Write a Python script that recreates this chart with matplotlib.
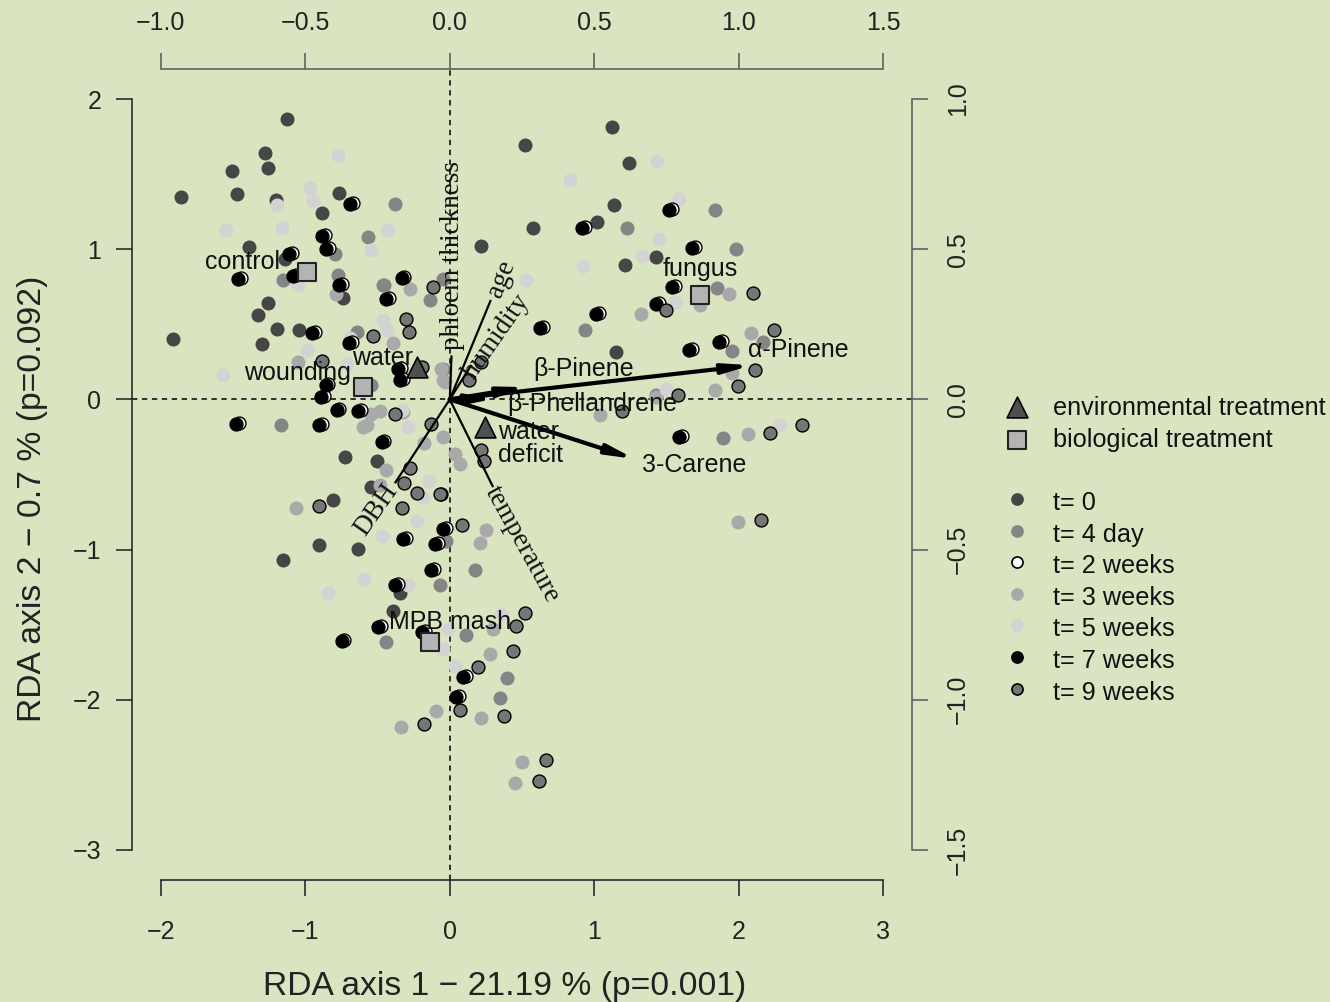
import matplotlib.pyplot as plt
import numpy as np

bg = '#d9e4c1'
sans = 'Liberation Sans'
serif = 'Liberation Serif'
plt.rcParams['font.family'] = [sans, 'DejaVu Sans']

# ---------------- sample scores (RDA axis 1, RDA axis 2) per sampling time
t0_x = [-1.124, -1.279, -1.257, -1.505, -1.862, -1.475, -1.203, -0.770, -0.883, -1.388,
        -1.141, -0.738, -1.257, -1.326, -1.913, -1.199, -1.042, -1.302, 0.219, 1.123,
        0.519, 1.240, 1.136, 1.019, 0.576, 1.215, 1.429, 1.148, -0.726, -0.507,
        -0.542, -0.811, -0.904, -0.634, -1.153, -0.346, -0.396]
t0_y = [1.867, 1.638, 1.542, 1.520, 1.349, 1.367, 1.331, 1.376, 1.238, 1.016,
        0.938, 0.678, 0.642, 0.564, 0.402, 0.469, 0.464, 0.371, 1.020, 1.811,
        1.691, 1.576, 1.293, 1.178, 1.138, 0.898, 0.949, 0.316, -0.384, -0.411,
        -0.584, -0.667, -0.967, -0.996, -1.067, -1.289, -1.411]

t4d_x = [-0.380, -0.569, -0.795, -1.153, -0.772, -0.454, -0.138, -0.046, -0.645, -0.542,
         -0.050, 1.833, 1.226, 1.983, 1.849, 0.934, 2.167, 1.955, 1.430, 1.890,
         -1.171, -0.023, -0.069, -0.443, 0.173, 0.115, 0.399, 0.346, -0.461]
t4d_y = [1.298, 1.082, 0.967, 0.793, 0.827, 0.760, 0.664, 0.804, 0.451, 0.093,
         0.204, 1.260, 1.138, 1.004, 0.744, 0.464, 0.382, 0.322, 0.027, -0.256,
         -0.169, -0.940, -1.236, -1.618, -1.136, -1.567, -1.856, -1.989, 0.764]

t2w_x = [-0.672, -0.865, -0.838, -1.091, -1.063, -1.444, -0.746, -0.314, -0.423, -0.932,
         -0.678, -0.840, -0.872, -0.337, -0.326, 0.647, 1.541, 0.938, 1.698, 1.560,
         1.445, 1.034, 1.882, 1.675, 1.606, -0.764, -0.614, -0.452, -1.460, -0.884,
         -0.026, -0.303, -0.084, -0.107, -0.360, -0.476, -0.169, -0.729, 0.112, 0.066]
t2w_y = [1.306, 1.093, 1.006, 0.973, 0.826, 0.810, 0.766, 0.817, 0.677, 0.450,
         0.384, 0.104, 0.021, 0.210, 0.133, 0.482, 1.270, 1.150, 1.017, 0.755,
         0.639, 0.577, 0.388, 0.337, -0.245, -0.067, -0.072, -0.278, -0.156, -0.167,
         -0.856, -0.923, -0.956, -1.127, -1.227, -1.507, -1.545, -1.605, -1.845, -1.978]

t3w_x = [-0.277, -0.788, -0.392, -1.049, -0.058, -0.035, -0.542, -0.484, -0.576, -0.048,
         0.035, 0.069, 1.936, 1.325, 1.729, 2.086, 1.955, 1.833, 1.425, 1.037,
         2.063, 1.994, 0.254, 0.207, -0.327, -0.600, -0.180, -0.443, -0.484, -1.067,
         0.300, 0.277, 0.214, -0.092, -0.341, 0.503, 0.454, -0.046]
t3w_y = [0.738, 0.704, 0.375, 0.249, 0.204, 0.116, -0.096, -0.078, -0.173, -0.251,
         -0.362, -0.429, 0.704, 0.571, 0.627, 0.444, 0.176, 0.064, 0.016, -0.107,
         -0.233, -0.813, -0.869, -0.956, -0.084, -0.184, -0.291, -0.467, -0.569, -0.724,
         -1.529, -1.696, -2.122, -2.078, -2.178, -2.413, -2.551, 0.127]

t5w_x = [-0.777, -0.966, -0.945, -1.194, -1.551, -1.164, -0.429, -0.542, -1.049, -0.692,
         -0.461, -0.434, -0.987, -1.568, -0.715, 0.530, -0.334, -0.288, 1.436, 0.830,
         1.586, 1.447, 0.922, 1.330, 1.556, 1.498, 2.282, -0.143, -0.182, -0.230,
         -0.468, -0.595, -0.288, -0.841, -0.046, 0.035, -0.012, 0.357]
t5w_y = [1.627, 1.409, 1.320, 1.293, 1.127, 1.142, 1.127, 0.993, 0.760, 0.411,
         0.527, 0.460, 0.327, 0.160, 0.238, 0.793, -0.073, -0.184, 1.587, 1.464,
         1.333, 1.071, 0.889, 0.956, 0.649, 0.071, -0.173, -0.544, -0.647, -0.807,
         -0.911, -1.196, -1.233, -1.289, -1.662, -1.773, -1.529, -1.429]

t7w_x = [-0.692, -0.885, -0.858, -1.111, -1.083, -1.464, -0.766, -0.334, -0.443, -0.952,
         -0.698, -0.860, -0.892, -0.357, -0.346, 0.627, 1.521, 0.918, 1.678, 1.540,
         1.425, 1.014, 1.862, 1.655, 1.586, -0.784, -0.634, -0.472, -1.480, -0.904,
         -0.046, -0.323, -0.104, -0.127, -0.380, -0.496, -0.189, -0.749, 0.092, 0.046]
t7w_y = [1.300, 1.087, 1.000, 0.967, 0.820, 0.804, 0.760, 0.811, 0.671, 0.444,
         0.378, 0.098, 0.015, 0.204, 0.127, 0.476, 1.264, 1.144, 1.011, 0.749,
         0.633, 0.571, 0.382, 0.331, -0.251, -0.073, -0.078, -0.284, -0.162, -0.173,
         -0.862, -0.929, -0.962, -1.133, -1.233, -1.513, -1.551, -1.611, -1.851, -1.984]

t9w_x = [-0.113, -0.530, -0.304, -0.281, -0.885, -0.189, 0.133, 0.219, -0.380, -0.127,
         -0.277, 0.219, 0.235, 2.098, 1.494, 2.248, 2.116, 1.994, 1.579, 1.194,
         2.220, 2.439, 2.155, -0.058, 0.088, -0.318, -0.224, -0.069, -0.330, -0.904,
         0.519, 0.461, 0.438, 0.196, 0.069, 0.376, -0.180, 0.664, 0.615]
t9w_y = [0.749, 0.420, 0.533, 0.449, 0.253, 0.215, 0.127, 0.249, -0.100, -0.167,
         -0.460, -0.340, -0.407, 0.711, 0.593, 0.460, 0.198, 0.087, 0.027, -0.078,
         -0.224, -0.169, -0.802, -0.629, -0.833, -0.556, -0.624, -0.633, -0.722, -0.713,
         -1.422, -1.511, -1.678, -1.784, -2.067, -2.107, -2.162, -2.402, -2.540]

# ---------------- treatment centroids
env_names = ['water', 'water\ndeficit']
env_x = [-0.230, 0.242]
env_y = [0.215, -0.184]
bio_names = ['control', 'wounding', 'fungus', 'MPB mash']
bio_x = [-0.991, -0.600, 1.729, -0.138]
bio_y = [0.849, 0.080, 0.693, -1.618]

# ---------------- terpene (response) arrows
spec_names = ['α-Pinene', 'β-Pinene', 'β-Phellandrene', '3-Carene']
spec_x = [2.086, 0.530, 0.311, 1.279]
spec_y = [0.227, 0.082, 0.004, -0.396]

# ---------------- explanatory variables
var_names = ['phloem thickness', 'age', 'humidity', 'DBH', 'temperature']
var_x = [0.012, 0.284, 0.150, -0.380, 0.300]
var_y = [0.293, 0.662, 0.230, -0.558, -0.584]

bottom_ticks = [-2, -1, 0, 1, 2, 3]
left_ticks = [-3, -2, -1, 0, 1, 2]
top_ticks = [-1.0, -0.5, 0.0, 0.5, 1.0, 1.5]
right_ticks = [-1.5, -1.0, -0.5, 0.0, 0.5, 1.0]

time_labels = ['t= 0', 't= 4 day', 't= 2 weeks', 't= 3 weeks', 't= 5 weeks',
               't= 7 weeks', 't= 9 weeks']
time_colors = ['#464646', '#858585', 'white', '#a9a9a9', '#d3d3d3', 'black', '#767676']
time_edges = ['none', 'none', 'black', 'none', 'none', 'black', 'black']

W, H = 1330, 1002
fig = plt.figure(figsize=(W / 100, H / 100), dpi=100)
fig.patch.set_facecolor(bg)
ax = fig.add_axes([132 / W, 1 - 880 / H, 780 / W, 811 / H])
ax.set_facecolor(bg)
ax.set_xlim(-2.2, 3.2)
ax.set_ylim(-3.2, 2.2)

dark_ax = '#2a2a2a'
grey_ax = '#606060'
tick_kw = dict(direction='out', length=11.5, width=1.2, labelsize=18, labelcolor='#222222')

ax.spines['top'].set_visible(False)
ax.spines['right'].set_visible(False)
ax.spines['bottom'].set_bounds(-2, 3)
ax.spines['left'].set_bounds(-3, 2)
for s in ['bottom', 'left']:
    ax.spines[s].set_color(dark_ax)
    ax.spines[s].set_linewidth(1.2)
ax.set_xticks(bottom_ticks, [f'{t:d}'.replace('-', '−') for t in bottom_ticks])
ax.set_yticks(left_ticks, [f'{t:d}'.replace('-', '−') for t in left_ticks])
ax.tick_params(axis='x', pad=17.5, color=dark_ax, **tick_kw)
ax.tick_params(axis='y', pad=10.5, color=dark_ax, **tick_kw)

ax_top = ax.twiny()
ax_top.set_xlim(-1.1, 1.6)
for s in ['bottom', 'left', 'right']:
    ax_top.spines[s].set_visible(False)
ax_top.spines['top'].set_bounds(-1.0, 1.5)
ax_top.spines['top'].set_color(grey_ax)
ax_top.spines['top'].set_linewidth(1.2)
ax_top.set_xticks(top_ticks, [f'{t:.1f}'.replace('-', '−') for t in top_ticks])
ax_top.tick_params(axis='x', pad=13, color=grey_ax, **tick_kw)

ax_r = ax.twinx()
ax_r.set_ylim(-1.6, 1.1)
for s in ['bottom', 'left', 'top']:
    ax_r.spines[s].set_visible(False)
ax_r.spines['right'].set_bounds(-1.5, 1.0)
ax_r.spines['right'].set_color(grey_ax)
ax_r.spines['right'].set_linewidth(1.2)
ax_r.set_yticks(right_ticks, [f'{t:.1f}'.replace('-', '−') for t in right_ticks])
ax_r.tick_params(axis='y', pad=13, color=grey_ax, labelrotation=90, **tick_kw)
for lab in ax_r.get_yticklabels():
    lab.set_verticalalignment('center')

# dashed origin lines
ax.axhline(0, color='black', lw=1.1, ls=(0, (3.5, 3)), zorder=1)
ax.axvline(0, color='black', lw=1.1, ls=(0, (3.5, 3)), zorder=1)

# sample points
groups = [
    (t0_x, t0_y, 0), (t4d_x, t4d_y, 1), (t3w_x, t3w_y, 3), (t5w_x, t5w_y, 4),
    (t2w_x, t2w_y, 2), (t7w_x, t7w_y, 5), (t9w_x, t9w_y, 6),
]
for gx, gy, k in groups:
    if time_edges[k] == 'none':
        ax.scatter(gx, gy, s=102, c=time_colors[k], linewidths=0, zorder=3)
    else:
        ax.scatter(gx, gy, s=86, c=time_colors[k], edgecolors=time_edges[k],
                   linewidths=1.0, zorder=3)

# explanatory variable lines + serif labels
for vx, vy in zip(var_x, var_y):
    ax.plot([0, vx], [0, vy], color='black', lw=1.6, zorder=4, solid_capstyle='butt')
var_lab_pos = [(0.021, 0.955, 90), (0.355, 0.802, 68), (0.325, 0.415, 55),
               (-0.505, -0.735, 55), (0.499, -0.968, -61)]
for name, (lx, ly, rot) in zip(var_names, var_lab_pos):
    ax.text(lx, ly, name, family=serif, fontsize=19.5, rotation=rot,
            ha='center', va='center', color='#111111', zorder=6)

# terpene arrows
for sx, sy in zip(spec_x, spec_y):
    ax.annotate('', xy=(sx, sy), xytext=(0, 0), zorder=5,
                arrowprops=dict(arrowstyle='-|>,head_length=1.1,head_width=0.2',
                                lw=3, color='black', mutation_scale=14,
                                shrinkA=0, shrinkB=0))
spec_lab_pos = [(2.063, 0.329, 'left'), (0.927, 0.202, 'center'),
                (0.983, -0.030, 'center'), (1.690, -0.436, 'center')]
for name, (lx, ly, ha) in zip(spec_names, spec_lab_pos):
    ax.text(lx, ly, name, fontsize=18, ha=ha, va='center', color='#111111', zorder=6)

# treatment centroids
ax.scatter(env_x, env_y, marker='^', s=15 ** 2, c='#505050', edgecolors='black',
           linewidths=1.2, zorder=5)
ax.scatter(bio_x, bio_y, marker='s', s=12.5 ** 2, c='#b4b4b4', edgecolors='#222222',
           linewidths=1.5, zorder=5)
env_lab_pos = [(-0.464, 0.276, 'center'), (0.332, -0.294, 'left')]
for name, (lx, ly, ha) in zip(env_names, env_lab_pos):
    ax.text(lx, ly, name, fontsize=18, ha=ha, va='center', color='#111111',
            linespacing=0.95, zorder=6)
bio_lab_pos = [(-1.433, 0.915), (-1.051, 0.176), (1.731, 0.868), (0.0, -1.482)]
for name, (lx, ly) in zip(bio_names, bio_lab_pos):
    ax.text(lx, ly, name, fontsize=18, ha='center', va='center', color='#111111', zorder=6)

# axis titles
fig.text(505 / W, 1 - 995 / H, 'RDA axis 1 − 21.19 % (p=0.001)', fontsize=24.2,
         ha='center', va='baseline', color='#222222')
fig.text(33 / W, 1 - 499 / H, 'RDA axis 2 − 0.7 % (p=0.092)', fontsize=24.2,
         rotation=90, ha='center', va='center', color='#222222')

# legend drawn in pixel space to the right of the plot
lax = fig.add_axes([0, 0, 1, 1])
lax.set_xlim(0, W)
lax.set_ylim(H, 0)
lax.axis('off')
lax.patch.set_visible(False)
mx, tx = 1017, 1053
lax.scatter([mx], [407], marker='^', s=15 ** 2, c='#505050', edgecolors='black', linewidths=1.2)
lax.text(tx, 408, 'environmental treatment', fontsize=18.2, va='center', color='#111111')
lax.scatter([mx], [440], marker='s', s=12.5 ** 2, c='#b4b4b4', edgecolors='#222222', linewidths=1.5)
lax.text(tx, 440, 'biological treatment', fontsize=18.2, va='center', color='#111111')
for i, lab in enumerate(time_labels):
    yy = 503 + i * 31.6
    if time_edges[i] == 'none':
        lax.scatter([mx], [yy - 4], s=84, c=time_colors[i], linewidths=0)
    else:
        lax.scatter([mx], [yy - 4], s=64, c=time_colors[i], edgecolors=time_edges[i],
                    linewidths=1.2)
    lax.text(tx, yy, lab, fontsize=18.2, va='center', color='#111111')

fig.savefig('out.png', dpi=100, facecolor=bg)
